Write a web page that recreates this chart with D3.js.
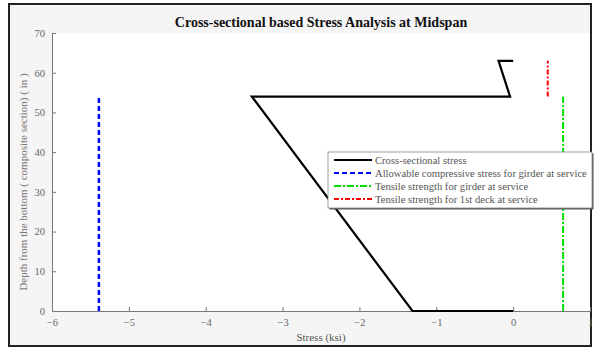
<!DOCTYPE html>
<html>
  <head>
    <meta charset="UTF-8">
    <script src="https://d3js.org/d3.v7.min.js"></script>
    <style type="text/css">
      body { margin: 0px; padding: 0px; background: #fff; }
      text { font-family: "Liberation Serif", "DejaVu Serif", serif; }
    </style>
  </head>
  <body>
    <div id="chart"></div>
    <script>
      // data (stress in ksi, depth in in)
      const stressX = [0, -1.31, -3.40, -0.04, -0.19, 0];
      const stressY = [0, 0, 54, 54, 63, 63];
      const compLimit = -5.39;
      const girderTensile = 0.65;
      const deckTensile = 0.45;
      const xTicks = [-6, -5, -4, -3, -2, -1, 0, 1];
      const yTicks = [0, 10, 20, 30, 40, 50, 60, 70];
      const legendLabels = [
        'Cross-sectional stress',
        'Allowable compressive stress for girder at service',
        'Tensile strength for girder at service',
        'Tensile strength for 1st deck at service'
      ];

      const width = 598, height = 349;
      const margin = { top: 33, right: 8, bottom: 38, left: 52 };

      const svg = d3.select('#chart').append('svg')
        .attr('width', width)
        .attr('height', height);

      // figure background + frame
      svg.append('rect').attr('x', 9).attr('y', 4).attr('width', 582).attr('height', 342)
        .attr('fill', '#f5f5f5').attr('stroke', '#222').attr('stroke-width', 2);

      const x = d3.scaleLinear().domain([-6, 1]).range([margin.left, width - margin.right]);
      const y = d3.scaleLinear().domain([0, 70]).range([height - margin.bottom, margin.top]);

      // axes area
      svg.append('rect')
        .attr('x', x(-6)).attr('y', y(70))
        .attr('width', x(1) - x(-6)).attr('height', y(0) - y(70))
        .attr('fill', '#fff');

      const xAxis = svg.append('g')
        .attr('transform', `translate(0,${y(0)})`)
        .call(d3.axisBottom(x).tickValues(xTicks).tickSize(-4).tickPadding(8).tickFormat(d3.format('d')));
      const yAxis = svg.append('g')
        .attr('transform', `translate(${x(-6)},0)`)
        .call(d3.axisLeft(y).tickValues(yTicks).tickSize(-4).tickPadding(7));
      [xAxis, yAxis].forEach(a => {
        a.select('.domain').attr('stroke', '#777');
        a.selectAll('.tick line').attr('stroke', '#777');
        a.selectAll('.tick text').attr('fill', '#666').style('font-size', '10.5px')
          .style('font-family', '"Liberation Serif", serif');
      });

      const line = d3.line().x(d => x(d[0])).y(d => y(d[1]));

      // limit lines
      svg.append('path').datum([[compLimit, 0], [compLimit, 54]]).attr('d', line)
        .attr('fill', 'none').attr('stroke', '#0000ff').attr('stroke-width', 2.5)
        .attr('stroke-dasharray', '5,3');
      svg.append('path').datum([[girderTensile, 0], [girderTensile, 54]]).attr('d', line)
        .attr('fill', 'none').attr('stroke', '#00e000').attr('stroke-width', 2)
        .attr('stroke-dasharray', '7,2,2,2');
      svg.append('path').datum([[deckTensile, 54], [deckTensile, 63]]).attr('d', line)
        .attr('fill', 'none').attr('stroke', '#ff0000').attr('stroke-width', 2)
        .attr('stroke-dasharray', '5,2,2,2');

      // stress profile
      svg.append('path').datum(stressX.map((v, i) => [v, stressY[i]])).attr('d', line)
        .attr('fill', 'none').attr('stroke', '#000').attr('stroke-width', 2.2)
        .attr('stroke-linejoin', 'miter');

      // title and labels
      svg.append('text').attr('x', (x(-6) + x(1)) / 2).attr('y', 27)
        .attr('text-anchor', 'middle').style('font-size', '14px').style('font-weight', 'bold')
        .attr('fill', '#111').text('Cross-sectional based Stress Analysis at Midspan');
      svg.append('text').attr('x', (x(-6) + x(1)) / 2).attr('y', 341)
        .attr('text-anchor', 'middle').style('font-size', '11px').attr('fill', '#555')
        .text('Stress (ksi)');
      svg.append('text')
        .attr('transform', `translate(27,${(y(0) + y(70)) / 2 + 10}) rotate(-90)`)
        .attr('text-anchor', 'middle').style('font-size', '11px').attr('fill', '#777')
        .text('Depth from the bottom ( composite section) ( in )');

      // legend
      const lg = svg.append('g').attr('transform', 'translate(328,152)');
      lg.append('rect').attr('x', 1.5).attr('y', 1.5).attr('width', 264).attr('height', 56)
        .attr('fill', '#555');
      lg.append('rect').attr('width', 264).attr('height', 56)
        .attr('fill', '#fff').attr('stroke', '#888').attr('stroke-width', 0.8);
      const styles = [
        { c: '#000', d: null, w: 2.2 },
        { c: '#0000ff', d: '5,3', w: 2 },
        { c: '#00e000', d: '7,2,2,2', w: 2 },
        { c: '#ff0000', d: '5,2,2,2', w: 2 }
      ];
      legendLabels.forEach((t, i) => {
        const yy = 8 + i * 13;
        lg.append('line').attr('x1', 6).attr('x2', 44).attr('y1', yy).attr('y2', yy)
          .attr('stroke', styles[i].c).attr('stroke-width', styles[i].w)
          .attr('stroke-dasharray', styles[i].d);
        lg.append('text').attr('x', 47).attr('y', yy + 3.5)
          .style('font-size', '10.6px').attr('fill', '#555').text(t);
      });
    </script>
  </body>
</html>
